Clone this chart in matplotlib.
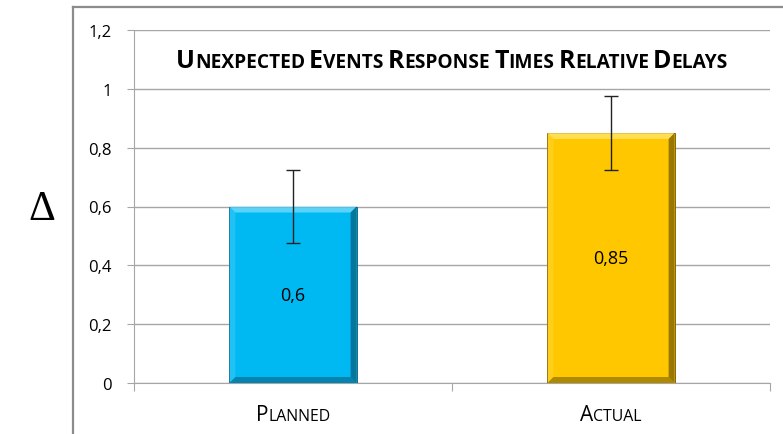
import matplotlib
matplotlib.use("Agg")
import matplotlib.pyplot as plt
from matplotlib.patches import Polygon
from matplotlib.lines import Line2D

categories = ["Planned", "Actual"]
values = [0.6, 0.85]
errors = [0.125, 0.125]
value_labels = ["0,6", "0,85"]
yticks = [0, 0.2, 0.4, 0.6, 0.8, 1.0, 1.2]
ytick_labels = ["0", "0,2", "0,4", "0,6", "0,8", "1", "1,2"]
title = "Unexpected Events Response Times Relative Delays"
colors = ["#00B9F2", "#FFC700"]
dark = ["#0B5A78", "#6E5600"]
light = ["#7ADDFB", "#FFE66E"]

W, H = 783, 435
fig = plt.figure(figsize=(W / 100, H / 100), dpi=100)
ax = fig.add_axes([134 / W, 1 - 384 / H, (770 - 134) / W, (384 - 31) / H])

FONT = "Open Sans"

x = list(range(len(categories)))
bars = ax.bar(x, values, width=0.4, color=colors, edgecolor=dark,
              linewidth=0.6, zorder=3)
ax.errorbar(x, values, yerr=errors, fmt="none", ecolor="#222222",
            elinewidth=1.0, capsize=5, capthick=1.0, zorder=5)

ax.set_xlim(-0.5, len(categories) - 0.5)
ax.set_ylim(0, 1.2)
ax.set_yticks(yticks)
ax.set_yticklabels(ytick_labels, fontsize=12, family=FONT)
ax.yaxis.grid(True, color="#A6A6A6", linewidth=1.0, zorder=0)
ax.set_axisbelow(True)
for s in ["top", "right"]:
    ax.spines[s].set_visible(False)
ax.spines["left"].set_color("#A6A6A6")
ax.spines["bottom"].set_color("#A6A6A6")
ax.tick_params(axis="y", length=5, color="#A6A6A6", pad=11)
ax.set_xticks([-0.5, 0.5, 1.5], minor=False)
ax.set_xticklabels([])
ax.tick_params(axis="x", length=6, color="#A6A6A6", direction="out")

for i, b in enumerate(bars):
    ax.text(b.get_x() + b.get_width() / 2, values[i] / 2, value_labels[i],
            ha="center", va="center", fontsize=13, family=FONT, zorder=6)

fig.canvas.draw()
renderer = fig.canvas.get_renderer()

# bevel effect
bw = 6
for i, b in enumerate(bars):
    bb = b.get_window_extent(renderer)
    x0, y0, x1, y1 = bb.x0, bb.y0, bb.x1, bb.y1
    polys = [
        ([(x0, y1), (x1, y1), (x1 - bw, y1 - bw), (x0 + bw, y1 - bw)], light[i], 0.75),
        ([(x0, y0), (x0, y1), (x0 + bw, y1 - bw), (x0 + bw, y0 + bw)], light[i], 0.25),
        ([(x1, y0), (x1, y1), (x1 - bw, y1 - bw), (x1 - bw, y0 + bw)], dark[i], 0.7),
        ([(x0, y0), (x1, y0), (x1 - bw, y0 + bw), (x0 + bw, y0 + bw)], dark[i], 0.55),
    ]
    for pts, c, a in polys:
        p = Polygon(pts, closed=True, transform=None, facecolor=c,
                    edgecolor="none", alpha=a, zorder=4)
        ax.add_artist(p)


def small_caps(fig, text, xc, yc, big, small, weight="normal", color="black"):
    runs = []
    for word_i, word in enumerate(text.split(" ")):
        if word_i > 0:
            runs.append((" ", small))
        for ch in word:
            if ch.isupper():
                runs.append((ch, big))
            else:
                sz = small
                if runs and runs[-1][1] == sz and runs[-1][0] != " ":
                    runs[-1] = (runs[-1][0] + ch.upper(), sz)
                else:
                    runs.append((ch.upper(), sz))
    arts = []
    widths = []
    for s, sz in runs:
        t = fig.text(0, 0, s, fontsize=sz, family=FONT, weight=weight,
                     color=color, ha="left", va="baseline")
        ext = t.get_window_extent(renderer)
        w = ext.width
        if s == " ":
            w = sz * 0.3
        arts.append(t)
        widths.append(w)
    total = sum(widths)
    cur = xc - total / 2
    for t, w in zip(arts, widths):
        t.set_position((cur / W, 1 - yc / H))
        cur += w
    return arts


small_caps(fig, title, 452, 68, 18, 13.8, weight="bold")
for i, c in enumerate(categories):
    xc = ax.transData.transform((i, 0))[0]
    small_caps(fig, c, xc, 421, 15, 11.4)

fig.text(42 / W, 1 - 210 / H, "\u0394", fontsize=30, family="Liberation Serif",
         ha="center", va="center")

# chart frame
fig.add_artist(Line2D([73 / W, 73 / W], [0, 1 - 8 / H], transform=fig.transFigure,
                      color="#8C8C8C", linewidth=1.6))
fig.add_artist(Line2D([73 / W, 1], [1 - 8 / H, 1 - 8 / H], transform=fig.transFigure,
                      color="#8C8C8C", linewidth=1.6))

fig.savefig("out.png", dpi=100)
